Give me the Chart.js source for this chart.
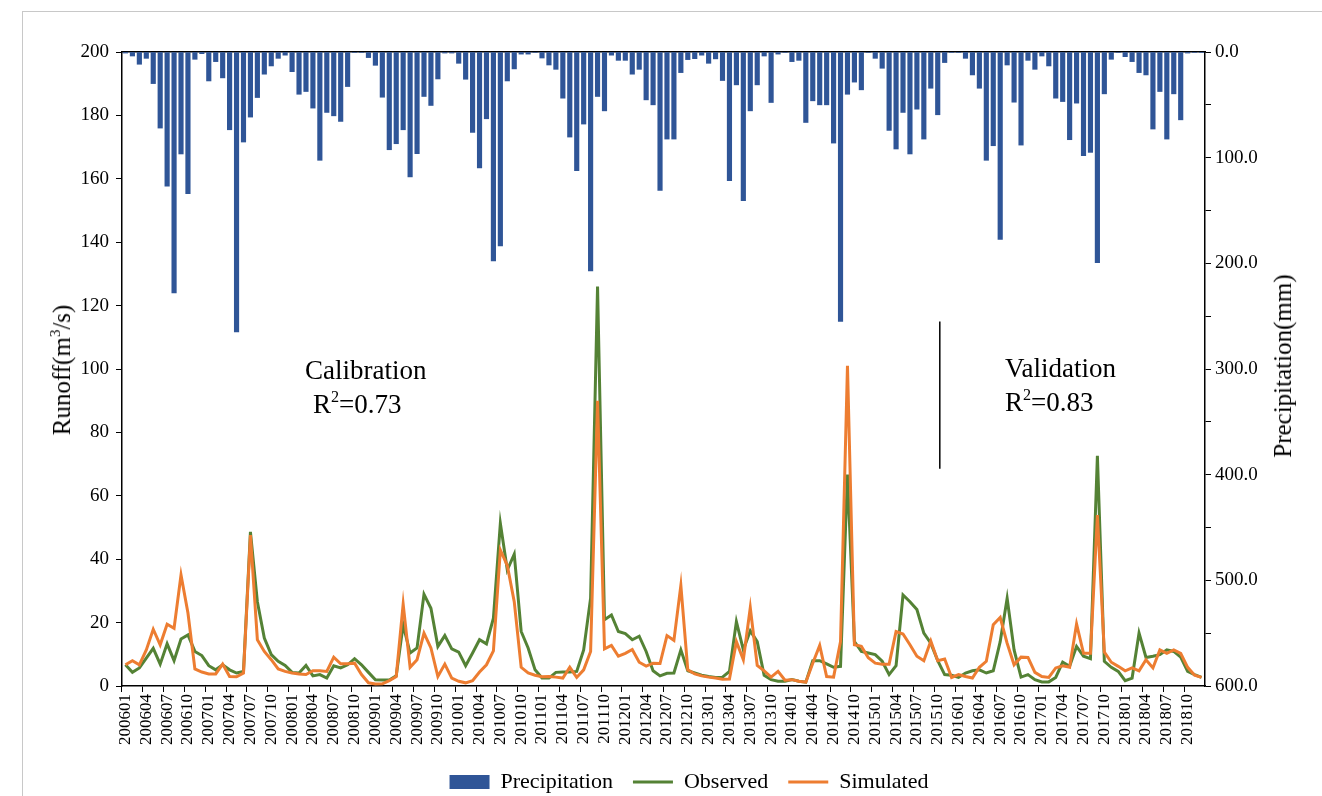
<!DOCTYPE html>
<html>
<head>
<meta charset="utf-8">
<script src="https://cdn.jsdelivr.net/npm/chart.js@4.4.1/dist/chart.umd.min.js"></script>
<style>
  body { margin: 0; background: #fff; overflow: hidden; }
  #wrap { position: relative; width: 1322px; height: 803px; }
  #frame { position: absolute; left: 22px; top: 11px; right: 0; bottom: 0; border-left: 1px solid #c8c8c8; border-top: 1px solid #c8c8c8; }
  .serif { font-family: "Liberation Serif", "Times New Roman", serif; color: #000; position: absolute; white-space: nowrap; }
  .ytitle { font-size: 25px; transform: translate(-50%, -50%) rotate(-90deg); }
  .note { font-size: 27px; line-height: 30px; }
  .note sup { font-size: 0.6em; line-height: 0; vertical-align: 0.7em; }
  .ytitle sup { font-size: 0.6em; line-height: 0; vertical-align: 0.7em; }
  canvas { position: absolute; left: 0; top: 0; }
</style>
</head>
<body>
<div id="wrap">
  <div id="frame"></div>
  <canvas id="chart" width="1322" height="803"></canvas>
  <div class="serif ytitle" style="left:62px; top:370px;">Runoff(m<sup>3</sup>/s)</div>
  <div class="serif ytitle" style="left:1283px; top:366px;">Precipitation(mm)</div>
  <div class="serif note" style="left:305px; top:355px;">Calibration</div>
  <div class="serif note" style="left:313px; top:389px;">R<sup>2</sup>=0.73</div>
  <div class="serif note" style="left:1005px; top:353px;">Validation</div>
  <div class="serif note" style="left:1005px; top:387px;">R<sup>2</sup>=0.83</div>
</div>
<script>
const years = [2006, 2007, 2008, 2009, 2010, 2011, 2012, 2013, 2014, 2015, 2016, 2017, 2018];
const monthNums = ["01", "02", "03", "04", "05", "06", "07", "08", "09", "10", "11", "12"];
const months = [];
years.forEach(y => monthNums.forEach(m => months.push(`${y}${m}`)));

// monthly precipitation (mm), one row per year
const precipitation = [
  1, 3.8, 11.6, 6, 29.9, 72, 127, 228, 96.5, 134, 6.9, 1.6,
  27.4, 9.1, 24.5, 73.6, 265, 85.2, 61.6, 43.1, 21, 13.2, 6, 3,
  18.6, 40, 37.4, 53.1, 102.5, 57.2, 60.4, 65.7, 32.7, 0.5, 0.5, 5.3,
  12.6, 42.8, 92.5, 86.8, 73.6, 118.2, 96.2, 42.1, 50.6, 25.5, 1, 1,
  10.7, 25.8, 76.1, 109.7, 63.2, 197.8, 183.6, 27.4, 16, 2, 2, 0.5,
  5.7, 12.3, 16.4, 43.7, 80.5, 112.3, 68.2, 207.2, 42.1, 55.7, 3, 7.9,
  7.9, 21, 16.4, 45.3, 50, 131.1, 82.4, 82.4, 19.5, 7.2, 6.3, 3,
  10.7, 6.5, 27, 121.7, 31.1, 140.6, 55.7, 31.1, 3.8, 47.8, 2, 0.5,
  9.1, 7.9, 66.7, 46.2, 50, 50, 86.2, 255, 40, 28.5, 35.8, 0.5,
  6, 15.4, 74.2, 91.8, 57.2, 96.5, 54.1, 82.4, 34.3, 59.4, 10, 0.5,
  0.5, 6, 21.7, 34.3, 102.5, 88.7, 177.4, 12.3, 47.5, 88.1, 7.9, 16.4,
  3.8, 13.2, 43.7, 46.9, 83, 48.4, 98.1, 95, 199.4, 39.6, 6.9, 0.5,
  4.4, 9.1, 19.5, 21.7, 72.9, 37.4, 82.4, 39.6, 64.2, 1, 0.5, 0.5
];

// observed runoff (m3/s)
const observed = [
  6.7, 4.3, 5.7, 8.8, 11.9, 6.9, 13.3, 8, 14.8, 16.1, 10.9, 9.6,
  6.4, 5.1, 6.7, 5.1, 4.1, 4.6, 48.6, 26.6, 15.1, 9.9, 7.8, 6.5,
  4.3, 4.1, 6.5, 3.2, 3.6, 2.5, 6.4, 5.7, 6.7, 8.6, 6.7, 4.3,
  2, 1.9, 1.9, 3.2, 19.3, 10.4, 12, 28.9, 24.5, 12.5, 15.9, 11.7,
  10.7, 6.4, 10.4, 14.6, 13.3, 21.4, 51.3, 36.6, 41.6, 17.2, 12, 5.1,
  2.5, 2.5, 4.3, 4.4, 4.4, 4.6, 11.4, 27.7, 126, 20.9, 22.4, 17.2,
  16.5, 14.6, 15.7, 10.9, 4.8, 3.2, 4, 4.1, 11.4, 4.8, 4.1, 3.4,
  3, 2.7, 2.8, 4.6, 20.3, 11.4, 17.4, 14, 3.4, 2, 1.5, 1.5,
  2, 1.5, 1.2, 8, 8, 7, 5.9, 6.2, 66.7, 14, 10.9, 10.4,
  9.9, 7.8, 3.6, 6.4, 28.7, 26.6, 24.1, 16.7, 13.5, 8, 3.6, 3.4,
  2.7, 4.1, 4.8, 5.1, 4.1, 4.8, 14, 27.7, 11.4, 2.8, 3.6, 2,
  1.3, 1.3, 2.7, 7.5, 6.2, 12.5, 9.4, 8.6, 72.6, 7.8, 5.9, 4.6,
  1.7, 2.5, 16.7, 9, 9.4, 9.9, 11.4, 10.9, 9.1, 4.6, 3.6, 2.7
];

// simulated runoff (m3/s)
const simulated = [
  6.7, 8, 6.7, 11.4, 17.9, 13, 19.5, 18.2, 35, 23, 5.4, 4.4,
  3.8, 3.8, 6.9, 3, 2.9, 4.1, 47.6, 14.6, 10.9, 8.3, 5.4, 4.6,
  4.1, 3.8, 3.6, 4.8, 4.8, 4.6, 9.1, 7, 7, 7.2, 3.6, 1,
  0.6, 0.7, 1.7, 3, 25.8, 5.9, 8.3, 16.7, 12, 3, 6.9, 2.5,
  1.5, 1, 1.7, 4.4, 6.7, 11.1, 42.9, 38, 26.6, 5.9, 4.1, 3.4,
  2.9, 3, 2.8, 2.5, 5.9, 2.7, 5.1, 10.9, 90, 11.7, 12.8, 9.4,
  10.3, 11.5, 7.5, 6.3, 7.2, 7.1, 15.9, 14.4, 31.7, 5.1, 3.8, 3.2,
  2.8, 2.5, 2.1, 2.2, 14, 8.3, 24.7, 6.5, 4.8, 2.8, 4.6, 1.8,
  2, 1.5, 1.2, 7.2, 12.8, 3, 2.8, 14, 101, 13, 12.5, 8.9,
  7.2, 6.9, 6.9, 17.2, 16.4, 13, 9.4, 8, 14.2, 8, 8.5, 2.7,
  3.6, 3, 2.5, 5.9, 7.8, 19.3, 21.6, 13.5, 6.7, 9.1, 9, 4.3,
  3, 2.7, 5.7, 6.4, 5.9, 19.6, 10.3, 10.3, 53.9, 10.7, 7.5, 6.2,
  4.8, 5.7, 4.8, 8.3, 5.7, 11.4, 10.3, 11.4, 10.3, 5.9, 3.4, 2.7
];

// calibration / validation divider (category index, runoff range)
const splitIndex = 117.3;
const splitTop = 115;
const splitBottom = 68.5;

const serif = "'Liberation Serif', 'Times New Roman', serif";
const black = "#000";

const splitLine = {
  id: "splitLine",
  afterDatasetsDraw(chart) {
    const { ctx, scales } = chart;
    const px = scales.x.getPixelForValue(splitIndex);
    ctx.save();
    ctx.strokeStyle = black;
    ctx.lineWidth = 1.5;
    ctx.beginPath();
    ctx.moveTo(px, scales.y.getPixelForValue(splitTop));
    ctx.lineTo(px, scales.y.getPixelForValue(splitBottom));
    ctx.stroke();
    ctx.restore();
  }
};

const everyThird = c => (c.index % 3 === 0 ? black : "rgba(0,0,0,0)");

new Chart(document.getElementById("chart").getContext("2d"), {
  data: {
    labels: months,
    datasets: [
      {
        type: "bar",
        label: "Precipitation",
        data: precipitation,
        yAxisID: "y1",
        backgroundColor: "#2F5597",
        borderWidth: 0,
        barThickness: 4.5,
        pointStyle: "rect",
        order: 2
      },
      {
        type: "line",
        label: "Observed",
        data: observed,
        yAxisID: "y",
        borderColor: "#548235",
        backgroundColor: "#548235",
        borderWidth: 3,
        pointRadius: 0,
        tension: 0,
        pointStyle: "line",
        order: 1
      },
      {
        type: "line",
        label: "Simulated",
        data: simulated,
        yAxisID: "y",
        borderColor: "#ED7D31",
        backgroundColor: "#ED7D31",
        borderWidth: 3,
        pointRadius: 0,
        tension: 0,
        pointStyle: "line",
        order: 0
      }
    ]
  },
  options: {
    responsive: false,
    animation: false,
    layout: { padding: { left: 56, top: 52, right: 0, bottom: 0 } },
    scales: {
      x: {
        type: "category",
        position: "bottom",
        offset: true,
        grid: { drawOnChartArea: false, offset: true, tickLength: 6, color: everyThird, tickColor: everyThird },
        border: { color: black, width: 1.5 },
        ticks: {
          autoSkip: false,
          minRotation: 90,
          maxRotation: 90,
          padding: 2,
          color: black,
          font: { family: serif, size: 17 },
          callback: (v, i) => (i % 3 === 0 ? months[i] : "")
        },
        afterFit: s => { s.height = 65; }
      },
      xTop: {
        type: "category",
        position: "top",
        offset: true,
        grid: { display: false, drawTicks: false },
        ticks: { display: false },
        border: { display: true, color: black, width: 1.5 },
        afterFit: s => { s.height = 0; }
      },
      y: {
        position: "left",
        min: 0,
        max: 200,
        ticks: { stepSize: 20, padding: 7, color: black, font: { family: serif, size: 19 } },
        grid: { drawOnChartArea: false, tickLength: 6, color: black },
        border: { color: black, width: 1.5 },
        afterFit: s => { s.width = 66; }
      },
      y1: {
        position: "right",
        reverse: true,
        min: 0,
        max: 600,
        ticks: {
          stepSize: 50,
          padding: 4,
          color: black,
          font: { family: serif, size: 19 },
          callback: v => (v % 100 === 0 ? v.toFixed(1) : "")
        },
        grid: { drawOnChartArea: false, tickLength: 6, color: black },
        border: { color: black, width: 1.5 },
        afterFit: s => { s.width = 117; }
      }
    },
    plugins: {
      legend: {
        position: "bottom",
        labels: {
          usePointStyle: true,
          pointStyleWidth: 40,
          boxHeight: 14,
          padding: 20,
          color: black,
          font: { family: serif, size: 22 },
          sort: (a, b) => a.datasetIndex - b.datasetIndex
        }
      },
      tooltip: { enabled: false }
    }
  },
  plugins: [splitLine]
});
</script>
</body>
</html>
